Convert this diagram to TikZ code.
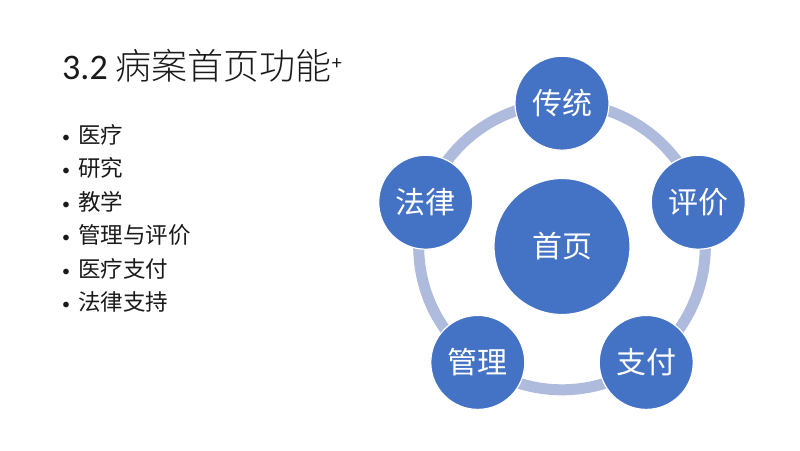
\documentclass[tikz,border=0pt]{standalone}
\usepackage{fontspec}
\usetikzlibrary{calc}
\setmainfont{Carlito}
\newfontfamily\cjk{Noto Sans CJK SC}
\newfontfamily\cjklight{Noto Sans CJK SC Light}
\definecolor{blu}{HTML}{4472C4}
\definecolor{ringc}{HTML}{AFBBDD}
\definecolor{ink}{HTML}{1A1A1A}
\begin{document}
\begin{tikzpicture}[x=1pt,y=1pt,
  outer/.style={circle,fill=blu,draw=white,line width=1.2pt,minimum size=94pt,inner sep=0pt,text=white,font=\fontsize{30}{32}\selectfont\cjk},
  hub/.style={outer,minimum size=136pt},
  ringline/.style={draw=ringc,line width=11pt},
  bul/.style={anchor=base west,inner sep=0pt,text=ink,font=\fontsize{22.5}{24}\selectfont}]
\fill[white] (0,0) rectangle (800,450);
\useasboundingbox (0,0) rectangle (800,450);
% title
\node[anchor=base west,inner sep=0pt,text=ink] (title) at (62,370.5)
  {\fontsize{36}{40}\selectfont 3.2 {\cjklight 病案首页功能}\raisebox{10pt}{\fontsize{20}{20}\selectfont +}};
% bullets
\node[bul] (b1) at (62,306.9) {\raisebox{1pt}{\fontsize{16}{16}\selectfont\textbullet}\hspace{8pt}{\cjk 医疗}};
\node[bul] (b2) at (62,273.4) {\raisebox{1pt}{\fontsize{16}{16}\selectfont\textbullet}\hspace{8pt}{\cjk 研究}};
\node[bul] (b3) at (62,239.9) {\raisebox{1pt}{\fontsize{16}{16}\selectfont\textbullet}\hspace{8pt}{\cjk 教学}};
\node[bul] (b4) at (62,206.4) {\raisebox{1pt}{\fontsize{16}{16}\selectfont\textbullet}\hspace{8pt}{\cjk 管理与评价}};
\node[bul] (b5) at (62,172.9) {\raisebox{1pt}{\fontsize{16}{16}\selectfont\textbullet}\hspace{8pt}{\cjk 医疗支付}};
\node[bul] (b6) at (62,139.4) {\raisebox{1pt}{\fontsize{16}{16}\selectfont\textbullet}\hspace{8pt}{\cjk 法律支持}};
% cycle
\coordinate (c) at (562,203.5);
\draw[ringline] (c) circle[radius=143.3];
\node[hub] (hub) at (c) {首页};
\node[outer] (n1) at ($(c)+(90:143.3)$) {传统};
\node[outer] (n2) at ($(c)+(18:143.3)$) {评价};
\node[outer] (n3) at ($(c)+(-54:143.3)$) {支付};
\node[outer] (n4) at ($(c)+(-126:143.3)$) {管理};
\node[outer] (n5) at ($(c)+(162:143.3)$) {法律};
\end{tikzpicture}
\end{document}
